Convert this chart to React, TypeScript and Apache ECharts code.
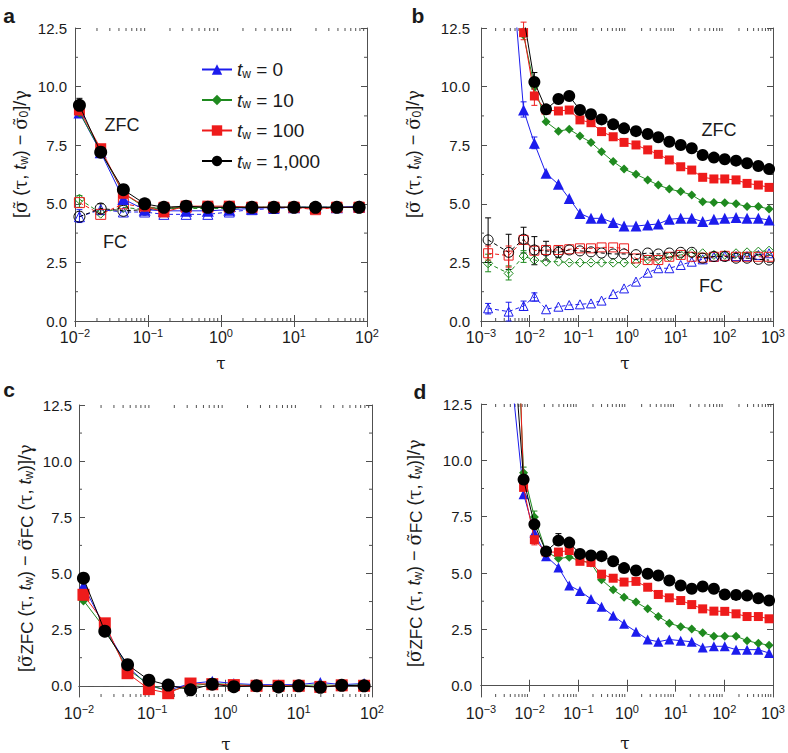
import React, { useEffect, useRef } from 'react';
import * as echarts from 'echarts';

// ---------- data ----------
const TAU_AC = [0.0115, 0.0225, 0.046, 0.09, 0.165, 0.333, 0.66, 1.3, 2.65, 5.3, 10, 19.7, 38.6, 78];
const TAU_BD = [0.0014, 0.0037, 0.0075, 0.0125, 0.0217, 0.039, 0.065, 0.108, 0.182, 0.3, 0.52, 0.87, 1.53, 2.66, 4.4, 7.4, 12.7, 21.4, 35.9, 61, 102, 174, 293, 500, 830];
const TW_LABELS = ['0', '10', '100', '1,000'];
const LEGEND_NAMES = ['tw0', 'tw10', 'tw100', 'tw1000'];
const Y_TICKS = [0, 2.5, 5, 7.5, 10, 12.5];
const Y_MINOR = [1.25, 3.75, 6.25, 8.75, 11.25];

// panel a: ZFC (filled) and FC (open)
const A_ZFC_TW0 = [8.9, 7.2, 5.2, 4.75, 4.7, 4.7, 4.7, 4.75, 4.8, 4.85, 4.85, 4.85, 4.85, 4.9];
const A_ZFC_TW10 = [8.9, 7.25, 5.45, 4.85, 4.8, 4.85, 4.85, 4.85, 4.85, 4.85, 4.85, 4.85, 4.85, 4.85];
const A_ZFC_TW100 = [9.0, 7.35, 5.45, 4.9, 4.65, 4.9, 4.9, 4.9, 4.85, 4.85, 4.85, 4.8, 4.85, 4.85];
const A_ZFC_TW1000 = [9.2, 7.2, 5.6, 5.0, 4.85, 4.9, 4.85, 4.85, 4.85, 4.85, 4.85, 4.85, 4.85, 4.85];
const A_FC_TW0 = [4.45, 4.75, 4.65, 4.65, 4.55, 4.55, 4.55, 4.65, 4.75, 4.8, 4.85, 4.85, 4.85, 4.85];
const A_FC_TW10 = [5.2, 4.6, 4.85, 4.75, 4.8, 4.8, 4.8, 4.8, 4.85, 4.85, 4.85, 4.85, 4.85, 4.85];
const A_FC_TW100 = [5.05, 4.55, 5.0, 4.85, 4.85, 4.85, 4.85, 4.85, 4.85, 4.85, 4.85, 4.75, 4.85, 4.85];
const A_FC_TW1000 = [4.45, 4.8, 4.7, 4.75, 4.8, 4.85, 4.85, 4.85, 4.85, 4.85, 4.85, 4.85, 4.85, 4.85];

// panel b
const B_ZFC_TW0 = [null, 16.8, 9.0, 7.58, 6.3, 5.83, 5.23, 4.59, 4.38, 4.38, 4.2, 4.05, 4.05, 4.1, 4.14, 4.34, 4.38, 4.38, 4.24, 4.34, 4.38, 4.42, 4.38, 4.38, 4.31];
const B_ZFC_TW10 = [null, 30, 12.2, 10.0, 8.5, 8.1, 8.18, 7.89, 7.62, 7.22, 6.8, 6.48, 6.26, 6.02, 5.8, 5.63, 5.52, 5.38, 5.09, 5.06, 5.05, 5.0, 4.88, 4.88, 4.78];
const B_ZFC_TW100 = [null, 40, 12.3, 9.6, 9.0, 8.96, 9.0, 8.58, 8.46, 8.08, 7.86, 7.62, 7.51, 7.3, 7.11, 6.87, 6.58, 6.44, 6.13, 6.06, 6.06, 6.02, 5.87, 5.8, 5.7];
const B_ZFC_TW1000 = [null, 40, 13.0, 10.2, 9.03, 9.47, 9.6, 9.0, 8.82, 8.6, 8.39, 8.22, 8.1, 7.98, 7.84, 7.65, 7.51, 7.37, 7.08, 6.97, 6.9, 6.84, 6.73, 6.61, 6.48];
const B_FC_TW0 = [0.54, 0.4, 0.64, 1.04, 0.5, 0.61, 0.68, 0.71, 0.75, 0.87, 1.15, 1.39, 1.68, 2.06, 2.25, 2.25, 2.39, 2.53, 2.63, 2.74, 2.77, 2.77, 2.77, 2.82, 2.89];
const B_FC_TW10 = [2.46, 2.03, 2.77, 2.6, 2.53, 2.53, 2.49, 2.49, 2.49, 2.49, 2.49, 2.49, 2.46, 2.63, 2.63, 2.74, 2.82, 2.89, 2.89, 2.82, 2.82, 2.89, 2.93, 2.96, 3.0];
const B_FC_TW100 = [2.89, 2.79, 3.46, 3.0, 3.03, 3.03, 3.06, 3.1, 3.1, 3.14, 3.14, 3.1, 2.67, 2.6, 2.6, 2.74, 2.82, 2.74, 2.7, 2.74, 2.78, 2.74, 2.74, 2.74, 2.74];
const B_FC_TW1000 = [3.46, 2.93, 3.49, 3.03, 2.99, 2.93, 3.03, 2.99, 2.95, 2.9, 2.86, 2.86, 2.83, 2.9, 2.86, 2.9, 2.93, 2.93, 2.68, 2.75, 2.75, 2.68, 2.68, 2.63, 2.6];

// panel c
const C_TW0 = [4.46, 2.6, 0.85, 0.0, -0.2, 0.1, 0.2, 0.1, 0.05, 0.05, 0.05, 0.15, 0.05, 0.1];
const C_TW10 = [3.8, 2.55, 0.75, 0.05, -0.25, 0.0, 0.1, 0.05, 0.0, 0.0, 0.0, 0.05, 0.0, 0.05];
const C_TW100 = [4.05, 2.78, 0.56, -0.15, -0.33, 0.1, 0.07, 0.03, 0.0, 0.0, 0.0, -0.05, 0.02, 0.0];
const C_TW1000 = [4.79, 2.43, 0.94, 0.25, 0.03, -0.18, 0.07, -0.04, 0.0, -0.05, 0.0, -0.07, 0.02, 0.0];

// panel d
const D_TW0 = [null, 15.0, 8.5, 6.8, 5.75, 5.25, 4.45, 4.2, 3.85, 3.5, 3.1, 2.75, 2.4, 2.05, 1.95, 2.05, 2.0, 1.95, 1.7, 1.75, 1.75, 1.6, 1.6, 1.6, 1.45];
const D_TW10 = [null, 25, 9.45, 7.49, 5.95, 5.65, 5.7, 5.55, 5.45, 4.7, 4.26, 3.93, 3.71, 3.41, 3.07, 2.77, 2.62, 2.52, 2.35, 2.2, 2.2, 2.2, 2.0, 1.88, 1.8];
const D_TW100 = [null, 30, 8.8, 6.48, 5.93, 5.93, 6.0, 5.52, 5.47, 4.95, 4.77, 4.6, 4.63, 4.37, 4.05, 3.9, 3.78, 3.6, 3.41, 3.31, 3.3, 3.19, 3.07, 3.07, 2.97];
const D_TW1000 = [null, 18, 9.15, 7.16, 5.96, 6.44, 6.35, 5.85, 5.78, 5.75, 5.52, 5.22, 5.11, 4.97, 4.89, 4.67, 4.45, 4.3, 4.4, 4.3, 4.05, 4.03, 4.0, 3.88, 3.78];

// error bars: [tau, low, high, colour index]
const ERR_A = [[0.0115, 8.95, 9.5, 3], [0.0115, 4.2, 4.75, 0], [0.0225, 4.55, 5.0, 3], [0.0115, 4.85, 5.35, 1]];
const ERR_B = [
  [0.0014, 2.5, 4.4, 3], [0.0037, 2.2, 3.7, 3], [0.0075, 2.9, 4.0, 3], [0.0125, 2.4, 3.6, 3], [0.0217, 2.6, 3.4, 3], [0.039, 2.7, 3.2, 3],
  [0.0014, 2.1, 2.85, 1], [0.0037, 1.75, 2.35, 1], [0.0075, 2.5, 3.0, 1],
  [0.0014, 2.6, 3.2, 2], [0.0037, 2.3, 3.2, 2],
  [0.0014, 0.3, 0.75, 0], [0.0037, 0.0, 0.8, 0], [0.0075, 0.45, 0.85, 0], [0.0125, 0.85, 1.2, 0],
  [0.0075, 12.0, 12.75, 2], [0.0125, 9.9, 10.6, 3], [0.0075, 8.7, 9.35, 0], [0.0125, 7.35, 7.85, 0], [0.0125, 9.2, 9.9, 2],
];
const ERR_D = [[0.0075, 9.1, 9.7, 1], [0.0125, 7.2, 7.75, 1], [0.039, 6.3, 6.75, 3], [0.0125, 6.25, 6.7, 2]];

// ---------- styling ----------
const PALETTE = ['#1c1ced', '#1f8a1f', '#ee1b1b', '#000000'];
const SYMBOLS = ['triangle', 'diamond', 'rect', 'circle'];
const AX = '#505050';
const TXT = '#1a1a1a';
const SANS = 'Liberation Sans';
const SERIF = 'DejaVu Serif';

function minorDecades(e0: number, e1: number) {
  const out: number[][] = [];
  for (let e = e0; e < e1; e++) for (let m = 2; m <= 9; m++) out.push([m * Math.pow(10, e)]);
  return out;
}

const supMap: Record<string, string> = { '-': '−' };
function logLabel(v: number) {
  const e = Math.round(Math.log10(v));
  const s = String(e).split('').map((c) => supMap[c] || c).join('');
  return `{b|10}{e|${s}}`;
}

function makeXAxes(gi: number, min: number, max: number, split: number) {
  const common = {
    type: 'log', logBase: 10, gridIndex: gi, min, max, splitNumber: split,
    axisLine: { show: true, lineStyle: { color: AX, width: 1 } },
    axisTick: { show: true, inside: true, length: 6, lineStyle: { color: AX, width: 1 } },
    splitLine: { show: false },
    minorTick: { show: false },
  };
  return [
    {
      ...common, position: 'bottom',
      axisLabel: {
        show: true, margin: 6, color: TXT, formatter: logLabel,
        rich: {
          b: { fontSize: 16, fontFamily: SANS, color: TXT },
          e: { fontSize: 11, fontFamily: SANS, color: TXT, padding: [0, 0, 9, 0] },
        },
      },
    },
    { ...common, position: 'top', axisLabel: { show: false } },
  ];
}

function makeYAxes(gi: number, min: number, margin: number) {
  const common: any = {
    type: 'value', gridIndex: gi, min, max: 12.5,
    axisLine: { show: true, lineStyle: { color: AX, width: 1 } },
    axisTick: { show: true, inside: true, length: 6, lineStyle: { color: AX, width: 1 }, customValues: Y_TICKS },
    splitLine: { show: false },
  };
  return [
    {
      ...common, position: 'left',
      axisLabel: {
        show: true, margin, color: TXT, fontSize: 15, fontFamily: SANS,
        customValues: Y_TICKS,
        formatter: (v: number) => v.toFixed(1),
      },
    },
    { ...common, position: 'right', axisLabel: { show: false } },
  ];
}

function lineSeries(name: string, gi: number, xs: number[], ys: (number | null)[], ci: number, size: number, filled: boolean, z: number) {
  const data = xs.map((x, i) => [x, ys[i]]).filter((p) => p[1] != null);
  const color = PALETTE[ci];
  return {
    type: 'line', name, xAxisIndex: gi * 2, yAxisIndex: gi * 2, data,
    symbol: SYMBOLS[ci], symbolSize: size, showSymbol: true, clip: true,
    lineStyle: { color, width: 1, type: filled ? 'solid' : [4, 3] },
    itemStyle: filled
      ? { color, borderWidth: 0 }
      : { color: 'rgba(255,255,255,0)', borderColor: color, borderWidth: 1 },
    emphasis: { disabled: true },
    silent: true,
    z,
  };
}

function tickSeries(gi: number, kind: 'x' | 'y', data: number[][]) {
  return {
    type: 'custom', xAxisIndex: gi * 2, yAxisIndex: gi * 2, silent: true, clip: false, z: 1,
    data,
    encode: kind === 'x' ? { x: 0 } : { y: 1 },
    renderItem: (params: any, api: any) => {
      const cs = params.coordSys;
      const L = 3;
      const st = { stroke: AX, lineWidth: 1 };
      if (kind === 'x') {
        const px = api.coord([api.value(0), 1])[0];
        return {
          type: 'group', children: [
            { type: 'line', shape: { x1: px, y1: cs.y + cs.height, x2: px, y2: cs.y + cs.height - L }, style: st },
            { type: 'line', shape: { x1: px, y1: cs.y, x2: px, y2: cs.y + L }, style: st },
          ],
        };
      }
      const py = api.coord([1, api.value(1)])[1];
      return {
        type: 'group', children: [
          { type: 'line', shape: { x1: cs.x, y1: py, x2: cs.x + L, y2: py }, style: st },
          { type: 'line', shape: { x1: cs.x + cs.width, y1: py, x2: cs.x + cs.width - L, y2: py }, style: st },
        ],
      };
    },
  };
}

function errSeries(gi: number, data: number[][]) {
  return {
    type: 'custom', xAxisIndex: gi * 2, yAxisIndex: gi * 2, silent: true, clip: false, z: 3,
    data,
    encode: { x: 0, y: [1, 2] },
    renderItem: (params: any, api: any) => {
      const x = api.value(0);
      const a = api.coord([x, api.value(1)]);
      const b = api.coord([x, api.value(2)]);
      const c = PALETTE[api.value(3)];
      const w = 3;
      const st = { stroke: c, lineWidth: 1 };
      return {
        type: 'group', children: [
          { type: 'line', shape: { x1: a[0], y1: a[1], x2: b[0], y2: b[1] }, style: st },
          { type: 'line', shape: { x1: a[0] - w, y1: a[1], x2: a[0] + w, y2: a[1] }, style: st },
          { type: 'line', shape: { x1: b[0] - w, y1: b[1], x2: b[0] + w, y2: b[1] }, style: st },
        ],
      };
    },
  };
}

const yRich = {
  b: { fontSize: 18, fontFamily: SANS, fill: TXT },
  g: { fontSize: 18, fontFamily: SERIF, fill: TXT },
  i: { fontSize: 18, fontFamily: SANS, fontStyle: 'italic', fill: TXT },
  s: { fontSize: 12, fontFamily: SANS, fill: TXT, padding: [8, 0, 0, 0] },
  z: { fontSize: 17, fontFamily: SANS, fill: TXT, padding: [5, 0, 0, 0] },
};
const LABEL_AB = '{b|[}{g|σ\u0303}{b| (}{g|τ}{b|, }{i|t}{s|w}{b|) − }{g|σ\u0303}{s|0}{b|]/}{g|γ}';
const LABEL_CD = '{b|[}{g|σ\u0303}{z|ZFC}{b| (}{g|τ}{b|, }{i|t}{s|w}{b|) − }{g|σ\u0303}{z|FC}{b| (}{g|τ}{b|, }{i|t}{s|w}{b|)]/}{g|γ}';

function yName(x: number, y: number, text: string) {
  return {
    type: 'text', x, y, rotation: Math.PI / 2, silent: true,
    style: { text, rich: yRich, align: 'center', verticalAlign: 'middle', fill: TXT, fontSize: 18, fontFamily: SANS },
  };
}
function plainText(x: number, y: number, text: string, size: number, weight = 'normal', family = SANS) {
  return {
    type: 'text', x, y, silent: true,
    style: { text, fontSize: size, fontWeight: weight, fontFamily: family, fill: TXT, align: 'center', verticalAlign: 'middle' },
  };
}

function buildOption() {
  const grids = [
    { left: 75, top: 28, width: 292, height: 293 },
    { left: 481, top: 28, width: 292, height: 293 },
    { left: 79, top: 405, width: 293, height: 292 },
    { left: 481, top: 404, width: 292, height: 293 },
  ];
  const xAxis = [
    ...makeXAxes(0, 0.01, 100, 4),
    ...makeXAxes(1, 0.001, 1000, 6),
    ...makeXAxes(2, 0.01, 100, 4),
    ...makeXAxes(3, 0.001, 1000, 6),
  ];
  const yAxis = [
    ...makeYAxes(0, 0, 8),
    ...makeYAxes(1, 0, 11),
    ...makeYAxes(2, -0.5, 7),
    ...makeYAxes(3, -0.5, 9),
  ];

  const aZ = [A_ZFC_TW0, A_ZFC_TW10, A_ZFC_TW100, A_ZFC_TW1000];
  const aF = [A_FC_TW0, A_FC_TW10, A_FC_TW100, A_FC_TW1000];
  const bZ = [B_ZFC_TW0, B_ZFC_TW10, B_ZFC_TW100, B_ZFC_TW1000];
  const bF = [B_FC_TW0, B_FC_TW10, B_FC_TW100, B_FC_TW1000];
  const cS = [C_TW0, C_TW10, C_TW100, C_TW1000];
  const dS = [D_TW0, D_TW10, D_TW100, D_TW1000];

  const sizeA = [12, 10, 11, 13];
  const openA = [10, 10, 10, 11];
  const sizeB = [11, 9, 9, 12];
  const openB = [9, 9, 9, 10];
  const sizeC = [11, 10, 12, 13];
  const sizeD = [10, 9, 9, 12];

  const series: any[] = [];
  const xMinorAC = minorDecades(-2, 2);
  const xMinorBD = minorDecades(-3, 3);
  const yMinor = Y_MINOR.map((v) => [1, v]);
  [0, 1, 2, 3].forEach((gi) => {
    series.push(tickSeries(gi, 'x', gi % 2 === 0 ? xMinorAC : xMinorBD));
    series.push(tickSeries(gi, 'y', yMinor));
  });

  for (let k = 0; k < 4; k++) series.push(lineSeries('aFC' + k, 0, TAU_AC, aF[k], k, openA[k], false, 4 + k));
  for (let k = 0; k < 4; k++) series.push(lineSeries(LEGEND_NAMES[k], 0, TAU_AC, aZ[k], k, sizeA[k], true, 10 + k));
  for (let k = 0; k < 4; k++) series.push(lineSeries('bFC' + k, 1, TAU_BD, bF[k], k, openB[k], false, 4 + k));
  for (let k = 0; k < 4; k++) series.push(lineSeries('bZFC' + k, 1, TAU_BD, bZ[k], k, sizeB[k], true, 10 + k));
  for (let k = 0; k < 4; k++) {
    const s: any = lineSeries('c' + k, 2, TAU_AC, cS[k], k, sizeC[k], true, 10 + k);
    if (k === 0) {
      s.markLine = {
        silent: true, symbol: ['none', 'none'], label: { show: false },
        lineStyle: { color: '#555', width: 1, type: [9, 6] },
        data: [{ yAxis: 0 }],
      };
    }
    series.push(s);
  }
  for (let k = 0; k < 4; k++) series.push(lineSeries('d' + k, 3, TAU_BD, dS[k], k, sizeD[k], true, 10 + k));

  series.push(errSeries(0, ERR_A));
  series.push(errSeries(1, ERR_B));
  series.push(errSeries(3, ERR_D));

  const twMap: Record<string, string> = {};
  LEGEND_NAMES.forEach((n, i) => (twMap[n] = TW_LABELS[i]));

  return {
    animation: false,
    backgroundColor: '#ffffff',
    textStyle: { fontFamily: SANS },
    grid: grids,
    xAxis,
    yAxis,
    legend: {
      data: LEGEND_NAMES,
      orient: 'vertical',
      left: 196, top: 55,
      itemWidth: 30, itemHeight: 13, itemGap: 11,
      selectedMode: false,
      formatter: (n: string) => `{i|t}{s|w}{n| = ${twMap[n]}}`,
      textStyle: {
        color: TXT, fontSize: 18, fontFamily: SANS,
        rich: {
          i: { fontSize: 19, fontStyle: 'italic', fontFamily: SANS, color: TXT },
          s: { fontSize: 12, fontFamily: SANS, color: TXT, padding: [8, 0, 0, 0] },
          n: { fontSize: 19, fontFamily: SANS, color: TXT },
        },
      },
    },
    graphic: [
      plainText(9, 15, 'a', 21, 'bold'),
      plainText(418, 15, 'b', 21, 'bold'),
      plainText(9, 389, 'c', 21, 'bold'),
      plainText(420, 391, 'd', 21, 'bold'),
      plainText(122, 125, 'ZFC', 18),
      plainText(115, 242, 'FC', 18),
      plainText(719, 130, 'ZFC', 18),
      plainText(711, 286, 'FC', 18),
      plainText(221, 363, 'τ', 17, 'normal', SERIF),
      plainText(625, 363, 'τ', 17, 'normal', SERIF),
      plainText(226, 744, 'τ', 17, 'normal', SERIF),
      plainText(625, 743, 'τ', 17, 'normal', SERIF),
      yName(20, 154, LABEL_AB),
      yName(413, 154, LABEL_AB),
      yName(25, 558, LABEL_CD),
      yName(414, 553, LABEL_CD),
    ],
    series,
  };
}

export default function App() {
  const ref = useRef<HTMLDivElement>(null);
  useEffect(() => {
    if (!ref.current) return;
    const chart = echarts.init(ref.current, undefined, { renderer: 'svg' });
    chart.setOption(buildOption() as any);
    return () => chart.dispose();
  }, []);
  return <div ref={ref} style={{ position: 'absolute', left: 0, top: 0, width: 788, height: 753, background: '#fff' }} />;
}
